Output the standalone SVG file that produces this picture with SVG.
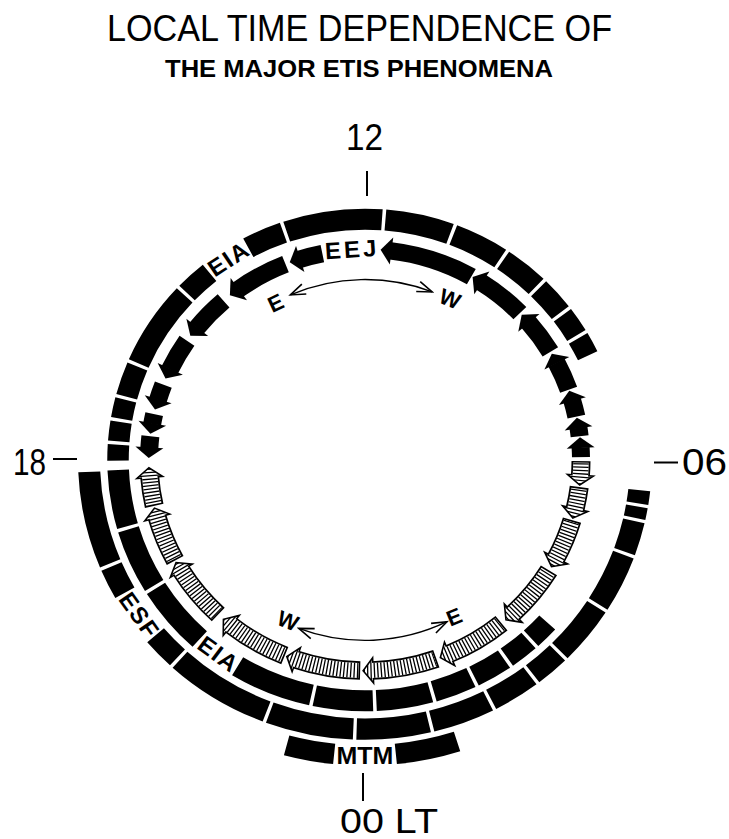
<svg xmlns="http://www.w3.org/2000/svg" width="729" height="839" viewBox="0 0 729 839">
<style>
.t{font-family:"Liberation Sans",Arial,sans-serif;fill:#000}
.h{font-size:36px}
.b{font-weight:bold}
.ring{fill:none;stroke:#000}
.tick{stroke:#000;stroke-width:2;fill:none}
.ew{fill:none;stroke:#000;stroke-width:1.5}
.rl{font-size:24px;font-weight:bold;text-anchor:middle;letter-spacing:1.5px}
</style>
<defs>
<polygon id="hb" points="0,-230 -11,-216 0,-202"/>
<polygon id="hh" points="0,-229 10,-216 0,-203"/>
<marker id="vh" viewBox="-17 -8 19 16" refX="0" refY="0" markerWidth="19" markerHeight="16" markerUnits="userSpaceOnUse" orient="auto-start-reverse">
<path d="M-15,-5.5 L0,0 L-15,5.5" fill="none" stroke="#000" stroke-width="1.6"/>
</marker>
<mask id="hm" maskUnits="userSpaceOnUse" x="-400" y="-400" width="800" height="800">
<circle r="216" pathLength="360" fill="none" stroke="#fff" stroke-width="15.5" stroke-dasharray="0 0.75 3.9 3.2 6.0 3.2 11.2 3.8 15.1 4.1 16.2 3.7 17.2 3.4 17.3 3.2 16.5 4.5 15.5 3.2 12.7 3.2 7.9 184.25"/>
<g fill="#fff">
<use href="#hh" transform="rotate(-265.85)"/><use href="#hh" transform="rotate(-256.65)"/><use href="#hh" transform="rotate(-242.25)"/><use href="#hh" transform="rotate(-223.35)"/><use href="#hh" transform="rotate(-203.05)"/><use href="#hh" transform="rotate(-182.15)"/><use href="#hh" transform="rotate(-161.45)"/><use href="#hh" transform="rotate(-141.75)"/><use href="#hh" transform="rotate(-121.75)"/><use href="#hh" transform="rotate(-105.85)"/><use href="#hh" transform="rotate(-94.75)"/>
</g>
</mask>
</defs>
<rect width="729" height="839" fill="#fff"/>
<g id="title">
<text class="t" x="107" y="41" font-size="37" textLength="505" lengthAdjust="spacingAndGlyphs">LOCAL TIME DEPENDENCE OF</text>
<text class="t b" x="165" y="77" font-size="24" textLength="388" lengthAdjust="spacingAndGlyphs">THE MAJOR ETIS PHENOMENA</text>
</g>
<g id="hours">
<text class="t h" x="346" y="150" textLength="37" lengthAdjust="spacingAndGlyphs">12</text>
<line class="tick" x1="367" y1="171" x2="367" y2="196"/>
<text class="t h" x="13" y="475" textLength="33" lengthAdjust="spacingAndGlyphs">18</text>
<line class="tick" x1="53" y1="459" x2="77" y2="459"/>
<text class="t h" x="682" y="475" textLength="45" lengthAdjust="spacingAndGlyphs">06</text>
<line class="tick" x1="654" y1="462.5" x2="678" y2="462.5"/>
<line class="tick" x1="363" y1="773" x2="363" y2="801"/>
<text class="t" x="340" y="833" font-size="35" textLength="98" lengthAdjust="spacingAndGlyphs">00 LT</text>
</g>
<g id="diagram" transform="translate(365,460) scale(1,0.975)">
<g id="eia-ring">
<circle class="ring" r="247" pathLength="360" stroke-width="21.5" stroke-dasharray="0 42.45 5.3 0.8 6.4 0.8 8.05 0.8 9.25 0.8 12.7 0.8 13.6 0.8 18.5 10.95 15.8 0.8 14.65 0.8 13.55 2.25 3.8 0.8 4.6 0.8 4.6 0.8 7.6 0.8 19.45 0.8 7.1 10.8 8.9 0.8 22.45 0.8 15.4 0.8 12.25 0.8 9.85 0.8 7.6 0.8 5.8 0.8 4.7 25.65"/>
<text class="t rl" transform="rotate(-33.6) translate(0.75,-239)">EIA</text>
<text class="t rl" transform="rotate(36.5) translate(0.75,255.5)">EIA</text>
</g>
<g id="esf-ring">
<circle class="ring" r="276" pathLength="360" stroke-width="22" stroke-dasharray="0 6.45 2.8 0.7 2.45 0.7 6.8 0.7 11.75 0.7 12.05 0.7 6.8 0.7 9.5 0.7 12.5 0.7 15.05 0.7 17.75 0.7 21.2 0.7 6.55 11.1 6.25 0.7 20.05 182.55"/>
<text class="t rl" transform="rotate(54.95) translate(0.75,284.5)">ESF</text>
</g>
<g id="mtm-ring">
<circle class="ring" r="303" pathLength="360" stroke-width="21" stroke-dasharray="0 72.3 11.85 11.7 9.15 255"/>
<text class="t b" font-size="25" text-anchor="middle" transform="translate(0,312)">MTM</text>
</g>
<g id="eej-arrows">
<circle class="ring" r="216" pathLength="360" stroke-width="18" stroke-dasharray="0 183.25 3.25 3.35 2.75 3.95 4.45 4.45 9.05 4.35 10.25 4.95 14.35 3.95 6.25 18.25 22.65 3.05 13.25 3.35 9.95 3.35 8.05 3.05 4.55 3.05 2.35 3.05 2.65 0.8"/>
<g fill="#000">
<use href="#hb" transform="rotate(86.75)"/><use href="#hb" transform="rotate(81.35)"/><use href="#hb" transform="rotate(73.75)"/><use href="#hb" transform="rotate(62.65)"/><use href="#hb" transform="rotate(49.35)"/><use href="#hb" transform="rotate(32.75)"/><use href="#hb" transform="rotate(7.05)"/><use href="#hb" transform="rotate(-17.45)"/><use href="#hb" transform="rotate(-35.75)"/><use href="#hb" transform="rotate(-50.95)"/><use href="#hb" transform="rotate(-64.35)"/><use href="#hb" transform="rotate(-73.25)"/><use href="#hb" transform="rotate(-79.95)"/><use href="#hb" transform="rotate(-86.55)"/>
</g>
<text class="t b" font-size="24" text-anchor="middle" letter-spacing="3" transform="rotate(-3.8) translate(1.5,-208)">EEJ</text>
</g>
<g id="hatched-arrows">
<circle class="ring" r="216" pathLength="360" stroke-width="19" stroke-dasharray="0 0.3 4.05 3.05 6.15 3.05 11.35 3.65 15.25 3.95 16.35 3.55 17.35 3.25 17.45 3.05 16.65 4.35 15.65 3.05 12.85 3.05 8.05 184.55"/>
<g fill="#fff" stroke="#000" stroke-width="1.6">
<use href="#hh" transform="rotate(-265.85)"/><use href="#hh" transform="rotate(-256.65)"/><use href="#hh" transform="rotate(-242.25)"/><use href="#hh" transform="rotate(-223.35)"/><use href="#hh" transform="rotate(-203.05)"/><use href="#hh" transform="rotate(-182.15)"/><use href="#hh" transform="rotate(-161.45)"/><use href="#hh" transform="rotate(-141.75)"/><use href="#hh" transform="rotate(-121.75)"/><use href="#hh" transform="rotate(-105.85)"/><use href="#hh" transform="rotate(-94.75)"/>
</g>
<circle r="216" pathLength="360" fill="none" stroke="#fff" stroke-width="15.5" stroke-dasharray="0 0.75 3.9 3.2 6.0 3.2 11.2 3.8 15.1 4.1 16.2 3.7 17.2 3.4 17.3 3.2 16.5 4.5 15.5 3.2 12.7 3.2 7.9 184.25"/>
<circle r="216" pathLength="360" fill="none" stroke="#000" stroke-width="30" stroke-dasharray="0.35 0.55" mask="url(#hm)"/>
</g>
<g id="connectors">
<path class="ew" d="M-74.65,-169.3 A185,185 0 0 1 67.2,-172.4" marker-start="url(#vh)" marker-end="url(#vh)"/>
<path class="ew" d="M81.96,165.85 A185,185 0 0 1 -66.3,172.7" marker-start="url(#vh)" marker-end="url(#vh)"/>
</g>
</g>
<g id="ew-labels">
<text class="t b" font-size="22" text-anchor="middle" transform="translate(279,310) rotate(-25)">E</text>
<text class="t b" font-size="22" text-anchor="middle" transform="translate(447,306) rotate(22)">W</text>
<text class="t b" font-size="22" text-anchor="middle" transform="translate(285,628) rotate(22)">W</text>
<text class="t b" font-size="22" text-anchor="middle" transform="translate(457,624) rotate(-22)">E</text>
</g>
</svg>
